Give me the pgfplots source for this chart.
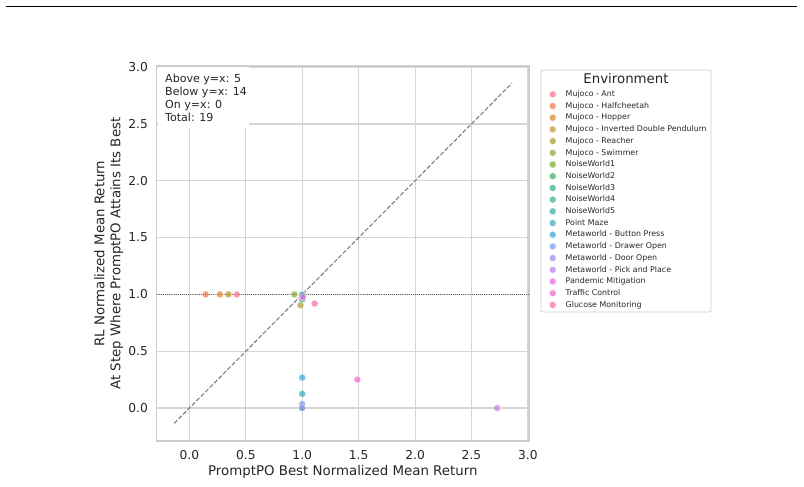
\documentclass[border=0pt]{standalone}
\usepackage{fontspec}
\setmainfont{DejaVu Sans}
\usepackage{pgfplots}
\pgfplotsset{compat=1.18}
\definecolor{textgray}{HTML}{262626}
\definecolor{gridgray}{HTML}{D5D5D5}
\definecolor{framegray}{HTML}{CCCCCC}
\definecolor{c00}{HTML}{F77189}
\definecolor{c01}{HTML}{EE7A4A}
\definecolor{c02}{HTML}{DD8632}
\definecolor{c03}{HTML}{C29531}
\definecolor{c04}{HTML}{AA9E31}
\definecolor{c05}{HTML}{8FA631}
\definecolor{c06}{HTML}{6EAB31}
\definecolor{c07}{HTML}{35B063}
\definecolor{c08}{HTML}{33AF82}
\definecolor{c09}{HTML}{35AE99}
\definecolor{c10}{HTML}{36ACAB}
\definecolor{c11}{HTML}{38A9C0}
\definecolor{c12}{HTML}{3EA5D8}
\definecolor{c13}{HTML}{6F9BF4}
\definecolor{c14}{HTML}{9A8FF4}
\definecolor{c15}{HTML}{BF80F2}
\definecolor{c16}{HTML}{E86AE4}
\definecolor{c17}{HTML}{F565CA}
\definecolor{c18}{HTML}{F66BA9}
\pgfplotsset{pt/.style={only marks, mark=*, mark size=3.5bp,
  mark options={fill=#1, draw=white, line width=0.5bp, opacity=0.72}}}
\begin{document}
\begin{tikzpicture}
\path[use as bounding box] (0bp,0bp) rectangle (804bp,487bp);
\draw[line width=1.3bp, black] (6bp,480.5bp) -- (797bp,480.5bp);
\begin{axis}[
  at={(156.7bp,46bp)}, anchor=south west,
  scale only axis, width=372.3bp, height=375bp,
  xmin=-0.29, xmax=3.01, ymin=-0.29, ymax=3.01,
  xtick={0,0.5,1,1.5,2,2.5,3}, ytick={0,0.5,1,1.5,2,2.5,3},
  xticklabels={0.0,0.5,1.0,1.5,2.0,2.5,3.0},
  yticklabels={0.0,0.5,1.0,1.5,2.0,2.5,3.0},
  grid=major, major grid style={color=gridgray, line width=1.1bp},
  axis line style={color=framegray, line width=1.5bp},
  tick style={draw=none},
  tick label style={font=\fontsize{12.3}{14}\selectfont, text=textgray},
  xticklabel style={anchor=base, inner sep=0pt, yshift=-18.5bp},
  yticklabel style={anchor=east, inner sep=0pt, xshift=-8.7bp},
  xlabel={PromptPO Best Normalized Mean Return},
  ylabel={RL Normalized Mean Return\\At Step Where PromptPO Attains Its Best},
  xlabel style={at={(axis description cs:0.5,-0.0827)}, anchor=center, font=\fontsize{13.4}{16.1}\selectfont, text=textgray},
  ylabel style={at={(axis description cs:-0.129,0.5)}, anchor=center, align=center, font=\fontsize{13.4}{16.1}\selectfont, text=textgray},
  legend cell align=left,
  legend image code/.code={\path[draw=none,fill=none] (-3.5bp,0bp) -- (13bp,0bp); \draw[only marks] plot coordinates {(0bp,0bp)};},
  legend style={at={(1.0543,0.9401)}, anchor=north west, draw=none, fill=none,
    inner sep=0pt, outer sep=0pt, row sep=0pt,
    font=\fontsize{7.9}{9}\selectfont, text=textgray,
    nodes={inner xsep=0pt, inner ysep=2.1bp, text height=6bp, text depth=1.5bp}},
]
\addplot[forget plot, color=gray, line width=1.1bp, dash pattern=on 4.4bp off 1.9bp] coordinates {(-0.135,-0.135) (2.86,2.86)};
\addplot[forget plot, color=black!60, line width=0.8bp, dash pattern=on 0.8bp off 1.3bp] coordinates {(-0.29,1) (3.01,1)};
\addplot[pt=c00] coordinates {(0.42,1.0)};
\addlegendentry{Mujoco - Ant}
\addplot[pt=c01] coordinates {(0.145,1.0)};
\addlegendentry{Mujoco - Halfcheetah}
\addplot[pt=c02] coordinates {(0.27,1.0)};
\addlegendentry{Mujoco - Hopper}
\addplot[pt=c03] coordinates {(0.345,1.0)};
\addlegendentry{Mujoco - Inverted Double Pendulum}
\addplot[pt=c04] coordinates {(0.985,0.905)};
\addlegendentry{Mujoco - Reacher}
\addplot[pt=c05] coordinates {(0.93,1.0)};
\addlegendentry{Mujoco - Swimmer}
\addplot[pt=c06] coordinates {(1.0,0.99)};
\addlegendentry{NoiseWorld1}
\addplot[pt=c07] coordinates {(0.995,0.0)};
\addlegendentry{NoiseWorld2}
\addplot[pt=c08] coordinates {(1.0,0.955)};
\addlegendentry{NoiseWorld3}
\addplot[pt=c09] coordinates {(1.0,0.985)};
\addlegendentry{NoiseWorld4}
\addplot[pt=c10] coordinates {(1.0,0.998)};
\addlegendentry{NoiseWorld5}
\addplot[pt=c11] coordinates {(1.0,0.125)};
\addlegendentry{Point Maze}
\addplot[pt=c12] coordinates {(1.0,0.268)};
\addlegendentry{Metaworld - Button Press}
\addplot[pt=c13] coordinates {(1.0,0.035)};
\addlegendentry{Metaworld - Drawer Open}
\addplot[pt=c14] coordinates {(1.0,0.0)};
\addlegendentry{Metaworld - Door Open}
\addplot[pt=c15] coordinates {(2.728,0.0)};
\addlegendentry{Metaworld - Pick and Place}
\addplot[pt=c16] coordinates {(1.005,0.975)};
\addlegendentry{Pandemic Mitigation}
\addplot[pt=c17] coordinates {(1.488,0.25)};
\addlegendentry{Traffic Control}
\addplot[pt=c18] coordinates {(1.11,0.92)};
\addlegendentry{Glucose Monitoring}
\end{axis}
\fill[white] (157.5bp,359.3bp) rectangle (249bp,420.2bp);
\begin{scope}[every node/.style={anchor=base west, inner sep=0pt, font=\fontsize{11.1}{13}\selectfont, text=textgray}]
\node at (165bp,404bp) {Above y=x: 5};
\node at (165bp,391bp) {Below y=x: 14};
\node at (165bp,378bp) {On y=x: 0};
\node at (165bp,365bp) {Total: 19};
\end{scope}
\draw[color=framegray, line width=0.8bp, rounded corners=2bp] (541bp,175bp) rectangle (711bp,417bp);
\node[font=\fontsize{13.4}{16}\selectfont, text=textgray, inner sep=0pt] at (626bp,408bp) {Environment};
\end{tikzpicture}
\end{document}
